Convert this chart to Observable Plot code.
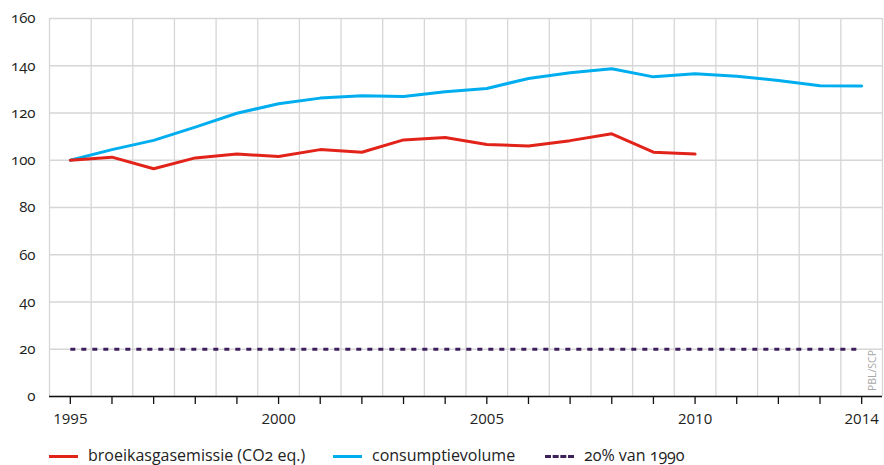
<!DOCTYPE html>
<html>
<head>
<meta charset="utf-8">
<script src="https://cdn.jsdelivr.net/npm/d3@7"></script>
<script src="https://cdn.jsdelivr.net/npm/@observablehq/plot@0.6"></script>
<style>
  html, body { margin: 0; padding: 0; background: #fff; }
  body { width: 884px; height: 465px; overflow: hidden; font-family: "Open Sans", "Noto Sans", sans-serif; }
  #chart svg { display: block; }
  #legend { position: relative; height: 30px; font-size: 16px; line-height: 18px; color: #222; font-variant-numeric: oldstyle-nums; font-feature-settings: "onum" 1; }
  #legend .sw { position: absolute; top: 20px; width: 29px; height: 0; }
  #legend .tx { position: absolute; top: 11px; white-space: nowrap; }
</style>
</head>
<body>
<div id="chart"></div>
<div id="legend"></div>
<script>
const years = [1995,1996,1997,1998,1999,2000,2001,2002,2003,2004,2005,2006,2007,2008,2009,2010,2011,2012,2013,2014];
const emissionYears = [1995,1996,1997,1998,1999,2000,2001,2002,2003,2004,2005,2006,2007,2008,2009,2010];
const emission = [100,101.3,96.4,101,102.6,101.6,104.5,103.4,108.6,109.6,106.7,106.0,108.3,111.2,103.4,102.6];
const consumption = [100,104.5,108.4,114,119.9,123.9,126.3,127.3,127.0,129.0,130.4,134.6,137.0,138.7,135.3,136.6,135.6,133.8,131.5,131.4];
const targetYears = [1995, 2014];
const targetValue = 20;
const xLabels = [1995, 2000, 2005, 2010, 2014];
const yTicks = [0,20,40,60,80,100,120,140,160];
const seriesNames = ["broeikasgasemissie (CO2 eq.)", "consumptievolume", "20% van 1990"];
const colors = ["#e2231a", "#00aeef", "#3d1f5c"];
const source = "PBL/SCP";

const emData = emissionYears.map((y, i) => ({year: y, value: emission[i]}));
const coData = years.map((y, i) => ({year: y, value: consumption[i]}));
const tgData = targetYears.map(y => ({year: y, value: targetValue}));
const vGrid = d3.range(1994.5, 2015, 1);

const chart = Plot.plot({
  width: 884,
  height: 435,
  marginLeft: 49,
  marginRight: 2,
  marginTop: 18,
  marginBottom: 39,
  style: {fontFamily: "'Open Sans', 'Noto Sans', sans-serif", fontSize: "15px", color: "#222"},
  x: {domain: [1994.5, 2014.5], label: null},
  y: {domain: [0, 160], label: null},
  marks: [
    Plot.ruleX(vGrid, {stroke: "#d6d6d6", strokeWidth: 1.3, strokeOpacity: 1}),
    Plot.ruleY(yTicks, {stroke: "#d6d6d6", strokeWidth: 1.3, strokeOpacity: 1}),
    Plot.axisY({ticks: yTicks, tickSize: 0, tickPadding: 14, tickFormat: d => String(d), fontSize: 15, label: null}),
    Plot.axisX({ticks: years, tickSize: 8, tickPadding: 9, tickFormat: d => xLabels.includes(d) ? String(d) : "", stroke: "#111", strokeWidth: 1.3, fontSize: 15, label: null}),
    Plot.ruleY([0], {stroke: "#111", strokeWidth: 1.5}),
    Plot.line(tgData, {x: "year", y: "value", stroke: colors[2], strokeWidth: 3, strokeDasharray: "5,6", strokeLinecap: "butt"}),
    Plot.line(coData, {x: "year", y: "value", stroke: colors[1], strokeWidth: 3}),
    Plot.line(emData, {x: "year", y: "value", stroke: colors[0], strokeWidth: 3}),
    Plot.text([source], {x: 2014.5, y: 11, dx: -10, rotate: -90, fill: "#a8a8a8", fontSize: 10.5, text: d => d})
  ]
});
document.getElementById("chart").appendChild(chart);
const yLabelSet = new Set(yTicks.map(String));
chart.querySelectorAll("g").forEach(g => { if (g.getAttribute("font-variant")) g.removeAttribute("font-variant"); });
chart.querySelectorAll("text").forEach(t => {
  if (yLabelSet.has(t.textContent.trim())) {
    t.setAttribute("font-variant", "oldstyle-nums");
    t.style.fontVariantNumeric = "oldstyle-nums";
    t.style.fontFeatureSettings = '"onum" 1';
  }
});

const legend = document.getElementById("legend");
const swLeft = [49, 333, 545];
const txLeft = [88, 372, 584];
seriesNames.forEach((name, i) => {
  const sw = document.createElement("div");
  sw.className = "sw";
  sw.style.left = swLeft[i] + "px";
  sw.style.borderTop = i === 2 ? `3px dashed ${colors[i]}` : `3px solid ${colors[i]}`;
  legend.appendChild(sw);
  const tx = document.createElement("div");
  tx.className = "tx";
  tx.style.left = txLeft[i] + "px";
  tx.textContent = name;
  legend.appendChild(tx);
});
</script>
</body>
</html>
